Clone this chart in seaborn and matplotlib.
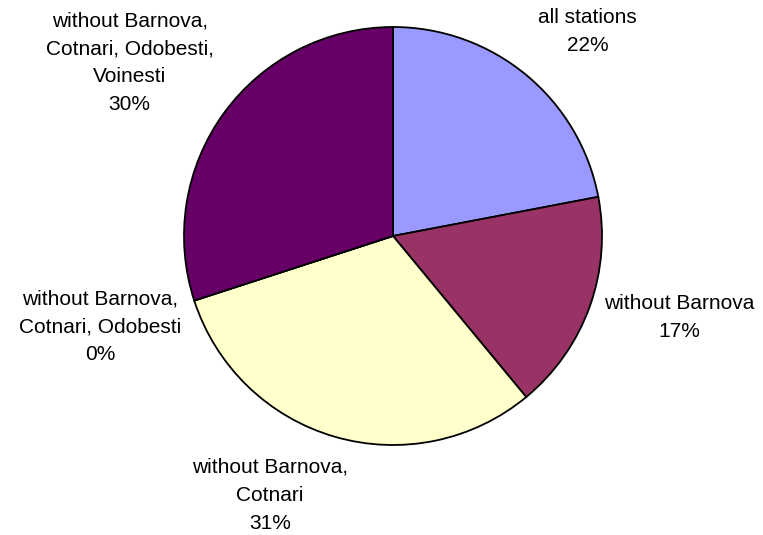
import matplotlib
matplotlib.use("Agg")
import matplotlib.pyplot as plt
import seaborn as sns

# Share of cases for each station subset
categories = [
    "all stations",
    "without Barnova",
    "without Barnova,\nCotnari",
    "without Barnova,\nCotnari, Odobesti",
    "without Barnova,\nCotnari, Odobesti,\nVoinesti",
]
shares = [22, 17, 31, 0, 30]
slice_colors = ["#9999FF", "#993366", "#FFFFCC", "#CCFFFF", "#660066"]

# Label anchor points, in pie-radius units relative to the centre
label_offsets = [(0.93, 0.98), (1.37, -0.39), (-0.59, -1.24), (-1.40, -0.435), (-1.26, 0.83)]

sns.set_theme(style="white")
plt.rcParams["font.family"] = ["Liberation Sans", "DejaVu Sans"]

fig = plt.figure(figsize=(7.63, 5.35), dpi=100)
ax = fig.add_axes([0, 0, 1, 1])

palette = sns.color_palette(slice_colors)
ax.pie(
    shares,
    colors=palette,
    startangle=90,
    counterclock=False,
    radius=1.0,
    wedgeprops=dict(edgecolor="black", linewidth=1.3),
)

total = sum(shares)
for name, val, (dx, dy) in zip(categories, shares, label_offsets):
    pct = round(100 * val / total)
    ax.text(dx, dy, f"{name}\n{pct}%", ha="center", va="center",
            fontsize=15, color="black", linespacing=1.6)

px_per_unit = 209
ax.set_xlim(-393 / px_per_unit, (763 - 393) / px_per_unit)
ax.set_ylim(-(535 - 236) / px_per_unit, 236 / px_per_unit)
ax.set_aspect("auto")
ax.axis("off")

fig.savefig("out.png", dpi=100, facecolor="white")
